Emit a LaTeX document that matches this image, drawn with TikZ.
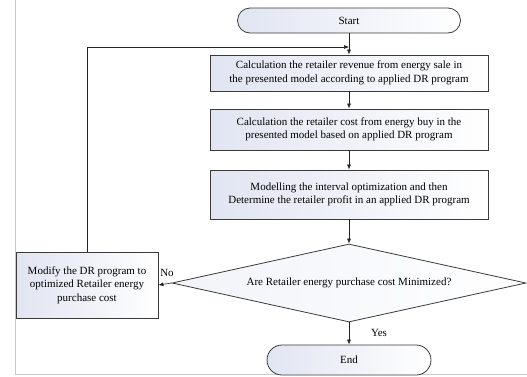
\documentclass[tikz,border=0pt]{standalone}
\usepackage{fontspec}
\setmainfont{Liberation Serif}
\usetikzlibrary{arrows.meta,shapes.geometric}
\definecolor{boxshade}{HTML}{E1E5F2}
\definecolor{boxborder}{HTML}{3A3A3A}
\definecolor{framegray}{HTML}{C8C8C8}
\definecolor{darkline}{HTML}{222222}
\tikzset{
  stepbox/.style={rectangle, draw=boxborder, line width=0.8pt, left color=boxshade, right color=white, align=center, font=\fontsize{11}{13.5}\selectfont, inner sep=2pt},
  mainbox/.style={stepbox, minimum width=278pt},
  terminal/.style={stepbox, rounded corners=12.5pt, minimum height=25pt},
  decision/.style={diamond, aspect=4.5, draw=boxborder, line width=0.8pt, left color=boxshade!45, right color=white, font=\fontsize{11}{13.5}\selectfont, inner sep=0pt, minimum width=354pt, minimum height=78pt},
  flow/.style={-{Latex[length=5pt,width=4pt]}, line width=0.6pt, draw=darkline},
  lbl/.style={font=\fontsize{11}{13}\selectfont}
}
\def\colx{349}

\begin{document}
\begin{tikzpicture}[x=1pt, y=-1pt]
\useasboundingbox (0,0) rectangle (527,376);

% Page frame
\draw[framegray, line width=0.8pt] (15,0) -- (15,374) -- (527,374);

% --- Main column ---
\node[terminal, minimum width=223pt] (start) at (\colx,20.5) {Start};
\coordinate (join) at (\colx,47);
\node[mainbox, minimum height=36pt] (revenue) at (\colx,73) {Calculation the retailer revenue from energy sale in\\the presented model according to applied DR program};
\node[mainbox, minimum height=41pt] (cost) at (\colx,129.5) {Calculation the retailer cost from energy buy in the\\presented model based on applied DR program};
\node[mainbox, minimum height=49pt] (profit) at (\colx,194.5) {Modelling the interval optimization and then\\Determine the retailer profit in an applied DR program};
\node[decision] (check) at (\colx,283) {Are Retailer energy purchase cost Minimized?};
\node[terminal, minimum width=164pt, minimum height=30pt, rounded corners=15pt] (end) at (\colx,360) {End};

% --- Loop back ---
\node[stepbox, minimum width=142pt, minimum height=66pt] (modify) at (87,285) {Modify the DR program to\\optimized Retailer energy\\purchase cost};

% Labels
\node[lbl] (no)  at (167,273) {No};
\node[lbl] (yes) at (379,333) {Yes};

% --- Flow ---
\draw[flow] (start.south) -- (revenue.north);
\draw[flow] (revenue.south) -- (cost.north);
\draw[flow] (cost.south) -- (profit.north);
\draw[flow] (profit.south) -- (check.north);
\draw[flow] (check.south) -- (end.north);
\draw[flow] (check.west) -- (modify.east);
% Modified program fed back above the first step
\draw[flow] (modify.north) |- (join);

\end{tikzpicture}
\end{document}
